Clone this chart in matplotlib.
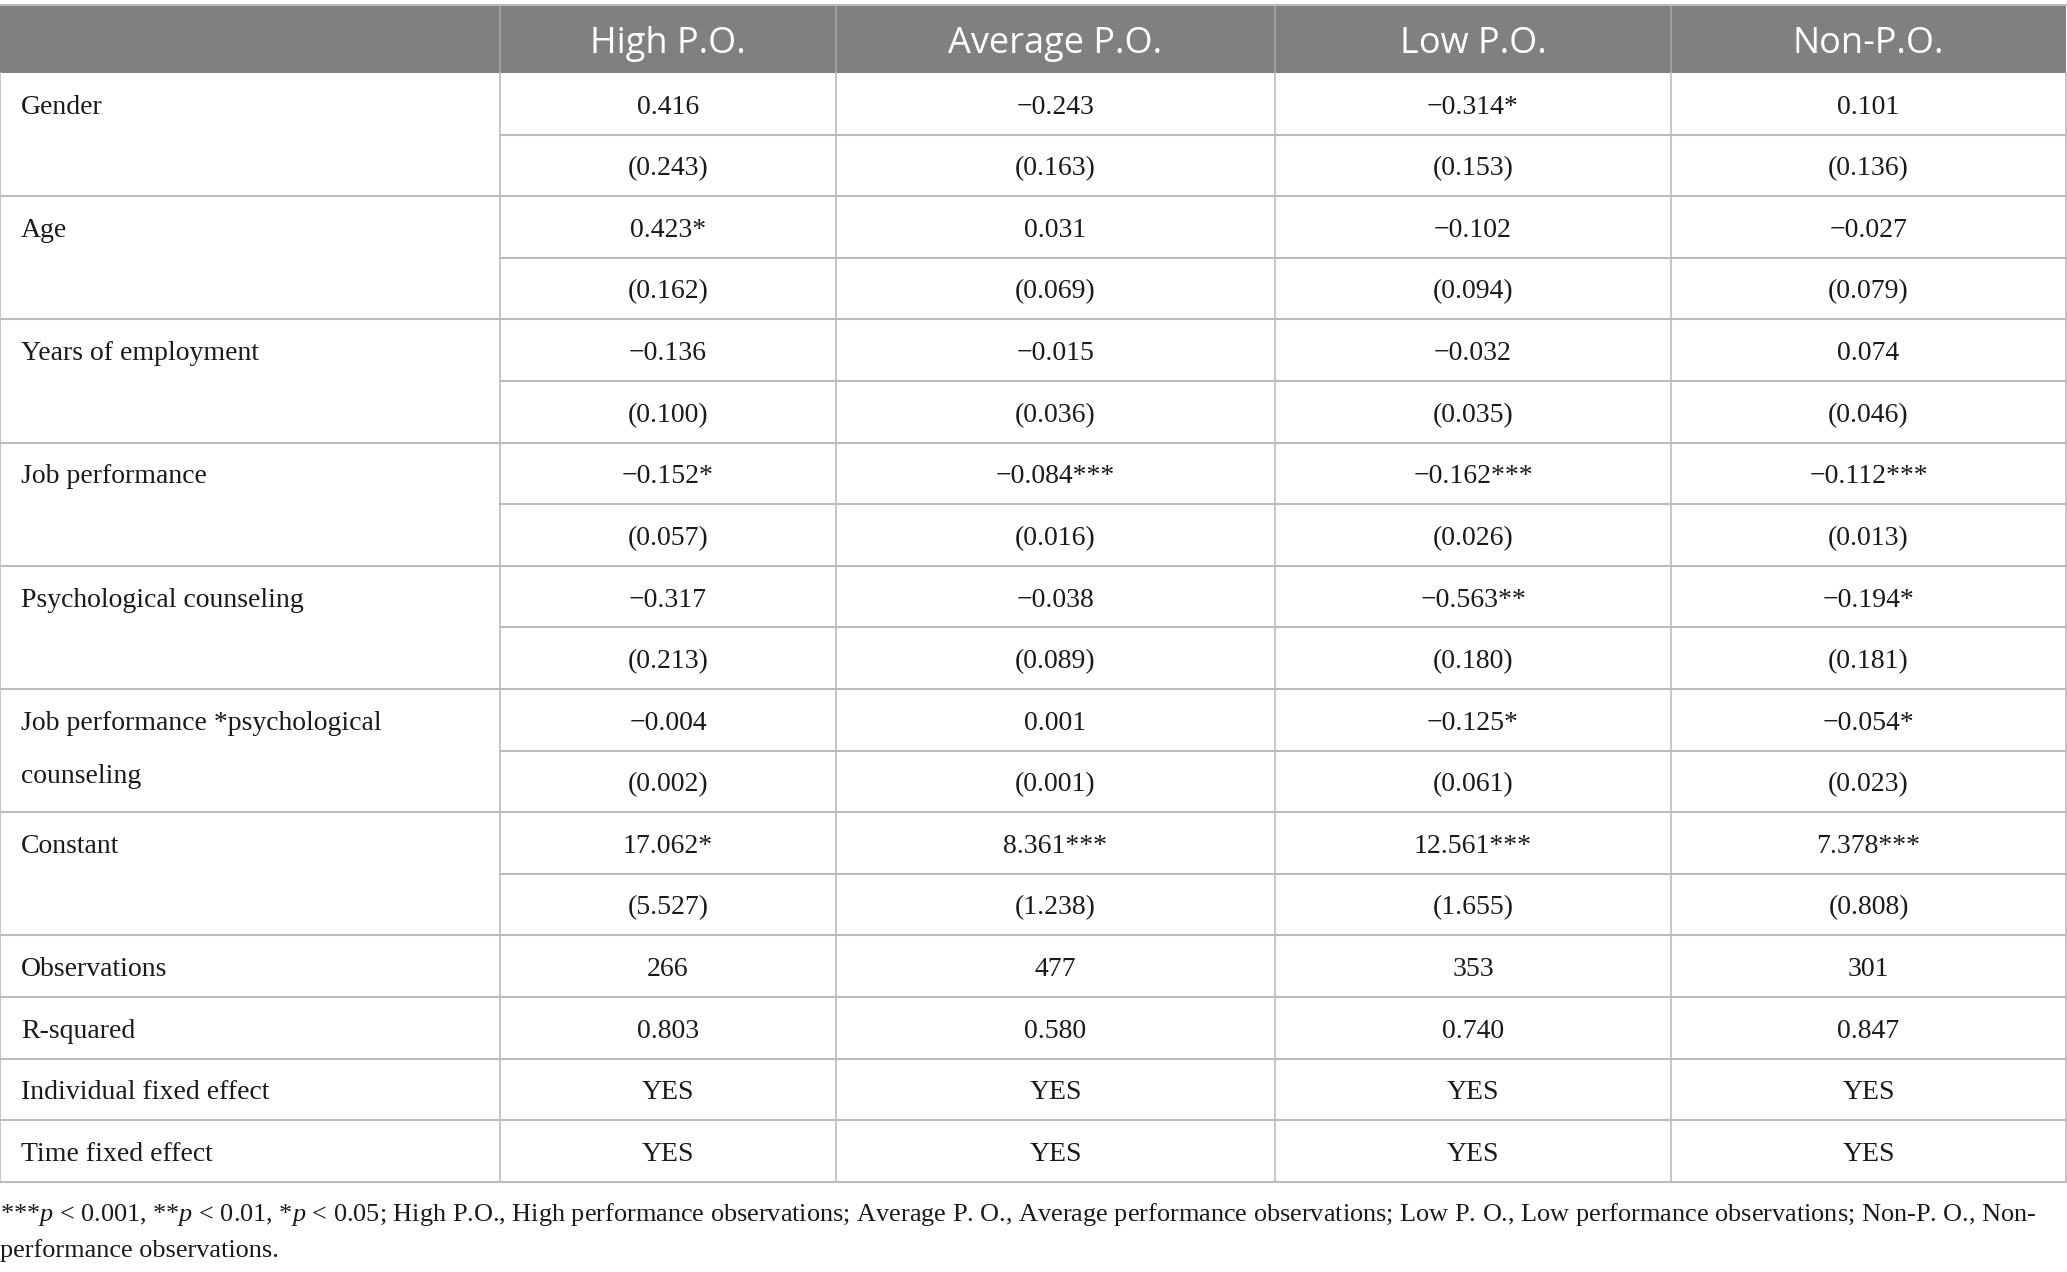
import matplotlib
matplotlib.use("Agg")
import matplotlib.pyplot as plt

plt.rcParams['mathtext.fontset'] = 'custom'
plt.rcParams['mathtext.it'] = 'Liberation Serif:italic'
plt.rcParams['mathtext.rm'] = 'Liberation Serif'

# table content
columns = ["High P.O.", "Average P.O.", "Low P.O.", "Non-P.O."]
variables = ["Gender", "Age", "Years of employment", "Job performance",
             "Psychological counseling",
             "Job performance *psychological\ncounseling", "Constant"]
coefs = [
    ["0.416", "\u22120.243", "\u22120.314*", "0.101"],
    ["0.423*", "0.031", "\u22120.102", "\u22120.027"],
    ["\u22120.136", "\u22120.015", "\u22120.032", "0.074"],
    ["\u22120.152*", "\u22120.084***", "\u22120.162***", "\u22120.112***"],
    ["\u22120.317", "\u22120.038", "\u22120.563**", "\u22120.194*"],
    ["\u22120.004", "0.001", "\u22120.125*", "\u22120.054*"],
    ["17.062*", "8.361***", "12.561***", "7.378***"],
]
ses = [
    ["(0.243)", "(0.163)", "(0.153)", "(0.136)"],
    ["(0.162)", "(0.069)", "(0.094)", "(0.079)"],
    ["(0.100)", "(0.036)", "(0.035)", "(0.046)"],
    ["(0.057)", "(0.016)", "(0.026)", "(0.013)"],
    ["(0.213)", "(0.089)", "(0.180)", "(0.181)"],
    ["(0.002)", "(0.001)", "(0.061)", "(0.023)"],
    ["(5.527)", "(1.238)", "(1.655)", "(0.808)"],
]
stats = ["Observations", "R-squared", "Individual fixed effect", "Time fixed effect"]
stat_vals = [
    ["266", "477", "353", "301"],
    ["0.803", "0.580", "0.740", "0.847"],
    ["YES", "YES", "YES", "YES"],
    ["YES", "YES", "YES", "YES"],
]
footnote = [
    "***$\\mathit{p}$ < 0.001, **$\\mathit{p}$ < 0.01, *$\\mathit{p}$ < 0.05; "
    "High P.O., High performance observations; Average P. O., Average performance "
    "observations; Low P. O., Low performance observations; Non-P. O., Non-",
    "performance observations.",
]

W, H = 2067, 1272
fig = plt.figure(figsize=(W / 100, H / 100), dpi=100)
ax = fig.add_axes([0, 0, 1, 1])
ax.set_xlim(0, W)
ax.set_ylim(H, 0)
ax.axis("off")

col_x = [0, 500, 836, 1275, 1671, 2066]
head_top, head_bot = 5, 73
row_h = 61.6
n_rows = 2 * len(variables) + len(stats)
tab_bot = head_bot + n_rows * row_h

line_c = "#bcbcbc"
txt_c = "#1a1a1a"
serif = "Liberation Serif"
fs = 20
dy = 10   # baseline offset below cell centre

# header
ax.fill_between([col_x[0], col_x[-1]], head_top, head_bot, color="#808080", lw=0)
for i, c in enumerate(columns):
    ax.text((col_x[i + 1] + col_x[i + 2]) / 2, 53, c,
            color="white", fontsize=26, family="Open Sans", ha="center", va="baseline")
for x in col_x[1:-1]:
    ax.plot([x, x], [head_top, head_bot], color="#a6a6a6", lw=1.2)
ax.plot([0, col_x[-1]], [head_top, head_top], color=line_c, lw=1.5)


def cell(x, yc, s, ha="center"):
    ax.text(x, yc + dy, s, fontsize=fs, family=serif, ha=ha, va="baseline", color=txt_c)


# body
y = head_bot
for k, var in enumerate(variables):
    for j, ln in enumerate(var.split("\n")):
        cell(21, y + row_h / 2 + j * 53, ln, ha="left")
    for i in range(4):
        xc = (col_x[i + 1] + col_x[i + 2]) / 2
        cell(xc, y + row_h / 2, coefs[k][i])
        cell(xc, y + 1.5 * row_h, ses[k][i])
    ax.plot([col_x[1], col_x[-1]], [y + row_h, y + row_h], color=line_c, lw=1.5)
    y += 2 * row_h
    ax.plot([0, col_x[-1]], [y, y], color=line_c, lw=1.5)

for k, st in enumerate(stats):
    cell(21, y + row_h / 2, st, ha="left")
    for i in range(4):
        cell((col_x[i + 1] + col_x[i + 2]) / 2, y + row_h / 2, stat_vals[k][i])
    y += row_h
    ax.plot([0, col_x[-1]], [y, y], color=line_c, lw=1.5)

for x in col_x:
    ax.plot([x, x], [head_bot, tab_bot], color=line_c, lw=1.2)

# footnote
for j, ln in enumerate(footnote):
    ax.text(0, 1221 + j * 36, ln, fontsize=18.9, family=serif, ha="left",
            va="baseline", color=txt_c)

fig.savefig("out.png", dpi=100)
